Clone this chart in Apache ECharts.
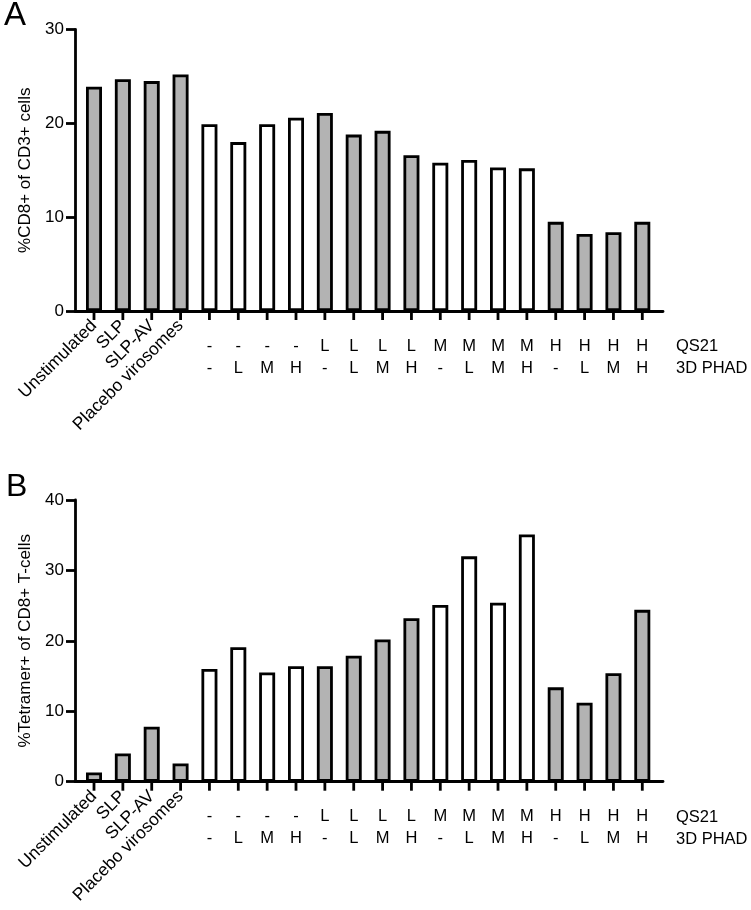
<!DOCTYPE html>
<html><head><meta charset="utf-8">
<script src="https://cdn.jsdelivr.net/npm/echarts@6/dist/echarts.min.js"></script>
<style>html,body{margin:0;padding:0;background:#fff}#c{width:751px;height:910px}</style>
</head><body><div id="c"></div>
<script>
// ---- data ----
const categories = ["Unstimulated", "SLP", "SLP-AV", "Placebo virosomes",
  "-/-", "-/L", "-/M", "-/H", "L/-", "L/L", "L/M", "L/H",
  "M/-", "M/L", "M/M", "M/H", "H/-", "H/L", "H/M", "H/H"];
const qs21Row = ["", "", "", "", "-", "-", "-", "-", "L", "L", "L", "L", "M", "M", "M", "M", "H", "H", "H", "H"];
const phadRow = ["", "", "", "", "-", "L", "M", "H", "-", "L", "M", "H", "-", "L", "M", "H", "-", "L", "M", "H"];
const rowHeaders = ["QS21", "3D PHAD"];
const cd8OfCd3 = [23.9, 24.7, 24.5, 25.2, 19.9, 18.0, 19.9, 20.6, 21.1, 18.8, 19.2, 16.6, 15.8, 16.1, 15.3, 15.2, 9.5, 8.2, 8.4, 9.5];
const tetramerOfCd8 = [1.3, 4.0, 7.8, 2.6, 16.0, 19.1, 15.5, 16.4, 16.4, 17.9, 20.2, 23.2, 25.1, 32.0, 25.4, 35.1, 13.4, 11.2, 15.4, 24.4];
const yTicksA = [0, 10, 20, 30];
const yTicksB = [0, 10, 20, 30, 40];
const yTitleA = "%CD8+ of CD3+ cells";
const yTitleB = "%Tetramer+ of CD8+ T-cells";

// ---- style ----
const FONT = "'Liberation Sans', Arial, Helvetica, sans-serif";
const INK = "#000";
const GRAY = "#b3b3b3";
const LW = 2.8;
const TICK_LEN = 9;

function isGray(i) { return i < 4 || qs21Row[i] === "L" || qs21Row[i] === "H"; }

// four overlapping grids per panel: frame (axis lines + y axis), names, bars + row labels, x tick marks
function panel(p, top, height, ticks, yTitle, values) {
  const G = (k) => p * 4 + k;
  const n = categories.length;
  const yMin = ticks[0], yMax = ticks[ticks.length - 1], yInt = ticks[1] - ticks[0];
  const inner = { left: 94, top: top, width: 548.3, height: height }; // first to last bar centre
  const grids = [
    { left: 75, top: top, width: 588, height: height },
    Object.assign({}, inner), Object.assign({}, inner), Object.assign({}, inner)
  ];
  const hiddenY = (g) => ({ gridIndex: g, type: "value", min: yMin, max: yMax, interval: yInt,
    axisLine: { show: false }, axisTick: { show: false }, axisLabel: { show: false }, splitLine: { show: false } });
  const innerX = (g, label) => ({ gridIndex: g, type: "value", position: "bottom", min: 0, max: n - 1, interval: 1,
    axisLine: { show: false, onZero: false }, axisTick: { show: false }, splitLine: { show: false },
    axisLabel: Object.assign({ show: true, showMinLabel: true, showMaxLabel: true, hideOverlap: false }, label) });
  const xAxes = [
    { gridIndex: G(0), type: "category", data: ["_"], axisLine: { show: true, onZero: false, lineStyle: { color: INK, width: LW } },
      axisTick: { show: false }, axisLabel: { show: false }, splitLine: { show: false } },
    innerX(G(1), { rotate: 45, margin: 12, fontFamily: FONT, fontSize: 17.5, color: INK,
      formatter: (v) => (v < 4 ? categories[v] : "") }),
    innerX(G(2), { margin: 24, fontFamily: FONT, fontSize: 16.5, color: INK, lineHeight: 22,
      formatter: (v) => (v < 4 ? "" : qs21Row[v] + "\n" + phadRow[v]) }),
    // tick marks at each category position, drawn as small filled label boxes hanging from the axis line
    innerX(G(3), { margin: 0, formatter: () => "{t| }",
      rich: { t: { width: LW, height: TICK_LEN, lineHeight: TICK_LEN, fontSize: 1, backgroundColor: INK, padding: 0 } } })
  ];
  const yAxes = [
    { gridIndex: G(0), type: "value", min: yMin, max: yMax, interval: yInt,
      axisLine: { show: true, lineStyle: { color: INK, width: LW } },
      axisTick: { show: true, length: TICK_LEN, lineStyle: { color: INK, width: LW } },
      axisLabel: { margin: 11, fontFamily: FONT, fontSize: 17, color: INK },
      splitLine: { show: false },
      name: yTitle, nameLocation: "middle", nameGap: 40,
      nameTextStyle: { fontFamily: FONT, fontSize: 17, color: INK } },
    hiddenY(G(1)), hiddenY(G(2)), hiddenY(G(3))
  ];
  const series = {
    type: "bar", xAxisIndex: G(2), yAxisIndex: G(2), barWidth: 16,
    data: values.map((v, i) => ({ value: [i, v], itemStyle: { color: isGray(i) ? GRAY : "#fff" } })),
    itemStyle: { borderColor: INK, borderWidth: LW },
    clip: false,
    silent: true
  };
  return { grids, xAxes, yAxes, series };
}

const A = panel(0, 29.5, 281.5, yTicksA, yTitleA, cd8OfCd3);
const B = panel(1, 500, 281.7, yTicksB, yTitleB, tetramerOfCd8);

const hdr = (text, left, top, size) => ({ text, left, top, textStyle: { fontFamily: FONT, fontSize: size, fontWeight: "normal", color: INK } });

const chart = echarts.init(document.getElementById("c"), null, { renderer: "canvas" });
chart.setOption({
  animation: false,
  backgroundColor: "#fff",
  title: [
    hdr("A", -1, -6, 33),
    hdr("B", 1, 466, 32),
    hdr(rowHeaders[0], 671, 333, 16.5), hdr(rowHeaders[1], 671, 355, 16.5),
    hdr(rowHeaders[0], 671, 804, 16.5), hdr(rowHeaders[1], 671, 826, 16.5)
  ],
  grid: [...A.grids, ...B.grids],
  xAxis: [...A.xAxes, ...B.xAxes],
  yAxis: [...A.yAxes, ...B.yAxes],
  series: [A.series, B.series]
});
</script>
</body></html>
